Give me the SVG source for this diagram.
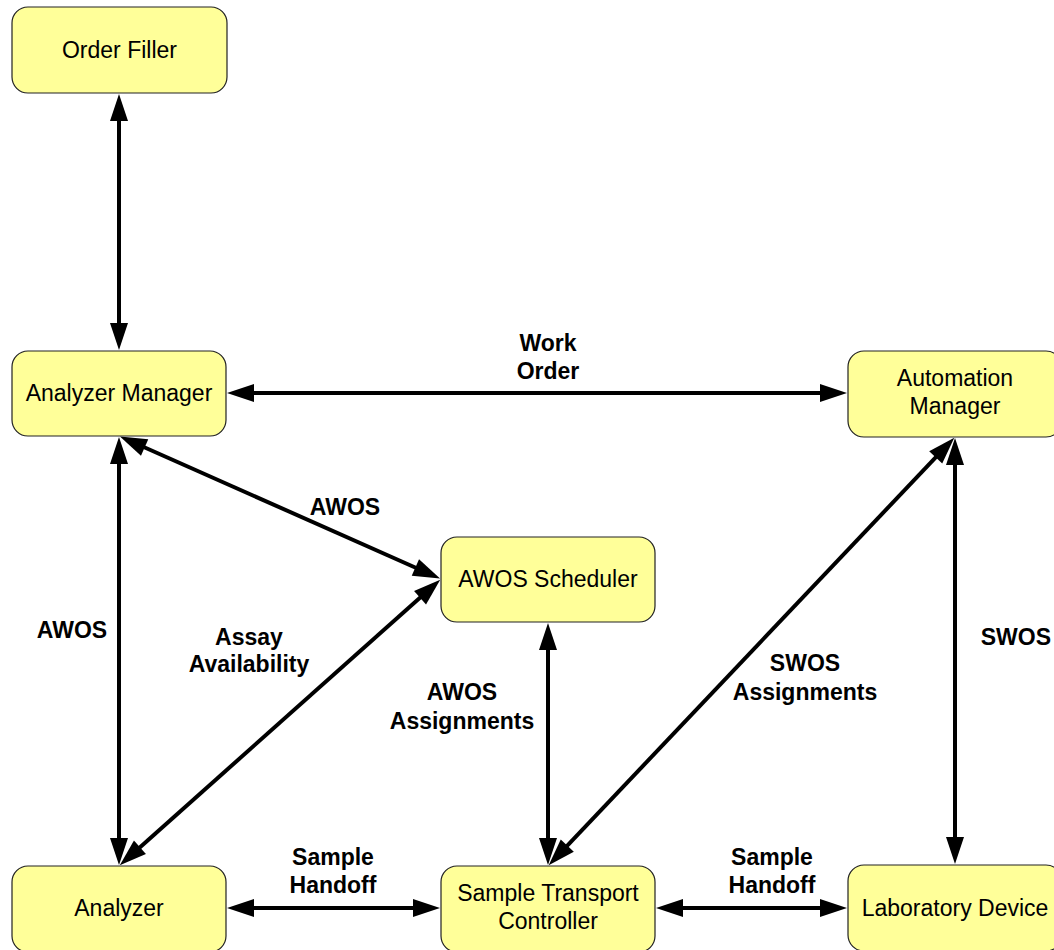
<svg xmlns="http://www.w3.org/2000/svg" width="1054" height="950" viewBox="0 0 1054 950">
<defs>
<style>
.node rect{fill:#FFFF99;stroke:#222;stroke-width:1.2}
.node text{font-family:"Liberation Sans",Arial,sans-serif;font-size:23px;fill:#000;text-anchor:middle}
.lbl{font-family:"Liberation Sans",Arial,sans-serif;font-size:23px;font-weight:bold;fill:#000;text-anchor:middle}
#connectors line{stroke:#000;stroke-width:4;marker-start:url(#ah);marker-end:url(#ah)}
</style>
<marker id="ah" markerUnits="userSpaceOnUse" viewBox="0 -10 28 20" refX="1" refY="0" markerWidth="28" markerHeight="20" orient="auto-start-reverse" overflow="visible">
<path d="M0,-9 L27,0 L0,9 z" fill="#000"/>
</marker>
</defs>
<rect width="1054" height="950" fill="#fff"/>
<g id="connectors">
<line x1="119" y1="120" x2="119" y2="324"/>
<line x1="253" y1="393" x2="821" y2="393"/>
<line x1="119" y1="463" x2="119" y2="839"/>
<line x1="143.7" y1="447" x2="416.3" y2="568"/>
<line x1="139.2" y1="848" x2="420.8" y2="597"/>
<line x1="548" y1="649" x2="548" y2="839"/>
<line x1="566.6" y1="846.4" x2="936.4" y2="456.6"/>
<line x1="955" y1="464" x2="955" y2="838"/>
<line x1="253" y1="908" x2="414" y2="908"/>
<line x1="682" y1="908" x2="821" y2="908"/>
</g>
<g id="labels">
<text class="lbl" x="548" y="351">Work</text>
<text class="lbl" x="548" y="379">Order</text>
<text class="lbl" x="345" y="515">AWOS</text>
<text class="lbl" x="72" y="638">AWOS</text>
<text class="lbl" x="249" y="645">Assay</text>
<text class="lbl" x="249" y="672">Availability</text>
<text class="lbl" x="462" y="700">AWOS</text>
<text class="lbl" x="462" y="729">Assignments</text>
<text class="lbl" x="805" y="671">SWOS</text>
<text class="lbl" x="805" y="700">Assignments</text>
<text class="lbl" x="1051" y="645" style="text-anchor:end">SWOS</text>
<text class="lbl" x="333" y="865">Sample</text>
<text class="lbl" x="333" y="893">Handoff</text>
<text class="lbl" x="772" y="865">Sample</text>
<text class="lbl" x="772" y="893">Handoff</text>
</g>
<g id="order-filler" class="node"><rect x="12" y="7" width="215" height="86" rx="16"/><text x="119.5" y="58">Order Filler</text></g>
<g id="analyzer-manager" class="node"><rect x="12" y="351" width="214" height="85" rx="16"/><text x="119" y="401">Analyzer Manager</text></g>
<g id="automation-manager" class="node"><rect x="848" y="351" width="214" height="86" rx="16"/><text x="955" y="386">Automation</text><text x="955" y="414">Manager</text></g>
<g id="awos-scheduler" class="node"><rect x="441" y="537" width="214" height="85" rx="16"/><text x="548" y="587">AWOS Scheduler</text></g>
<g id="analyzer" class="node"><rect x="12" y="866" width="214" height="86" rx="16"/><text x="119" y="916">Analyzer</text></g>
<g id="sample-transport-controller" class="node"><rect x="441" y="866" width="214" height="86" rx="16"/><text x="548" y="901">Sample Transport</text><text x="548" y="929">Controller</text></g>
<g id="laboratory-device" class="node"><rect x="848" y="865" width="214" height="86" rx="16"/><text x="955" y="916">Laboratory Device</text></g>
</svg>
